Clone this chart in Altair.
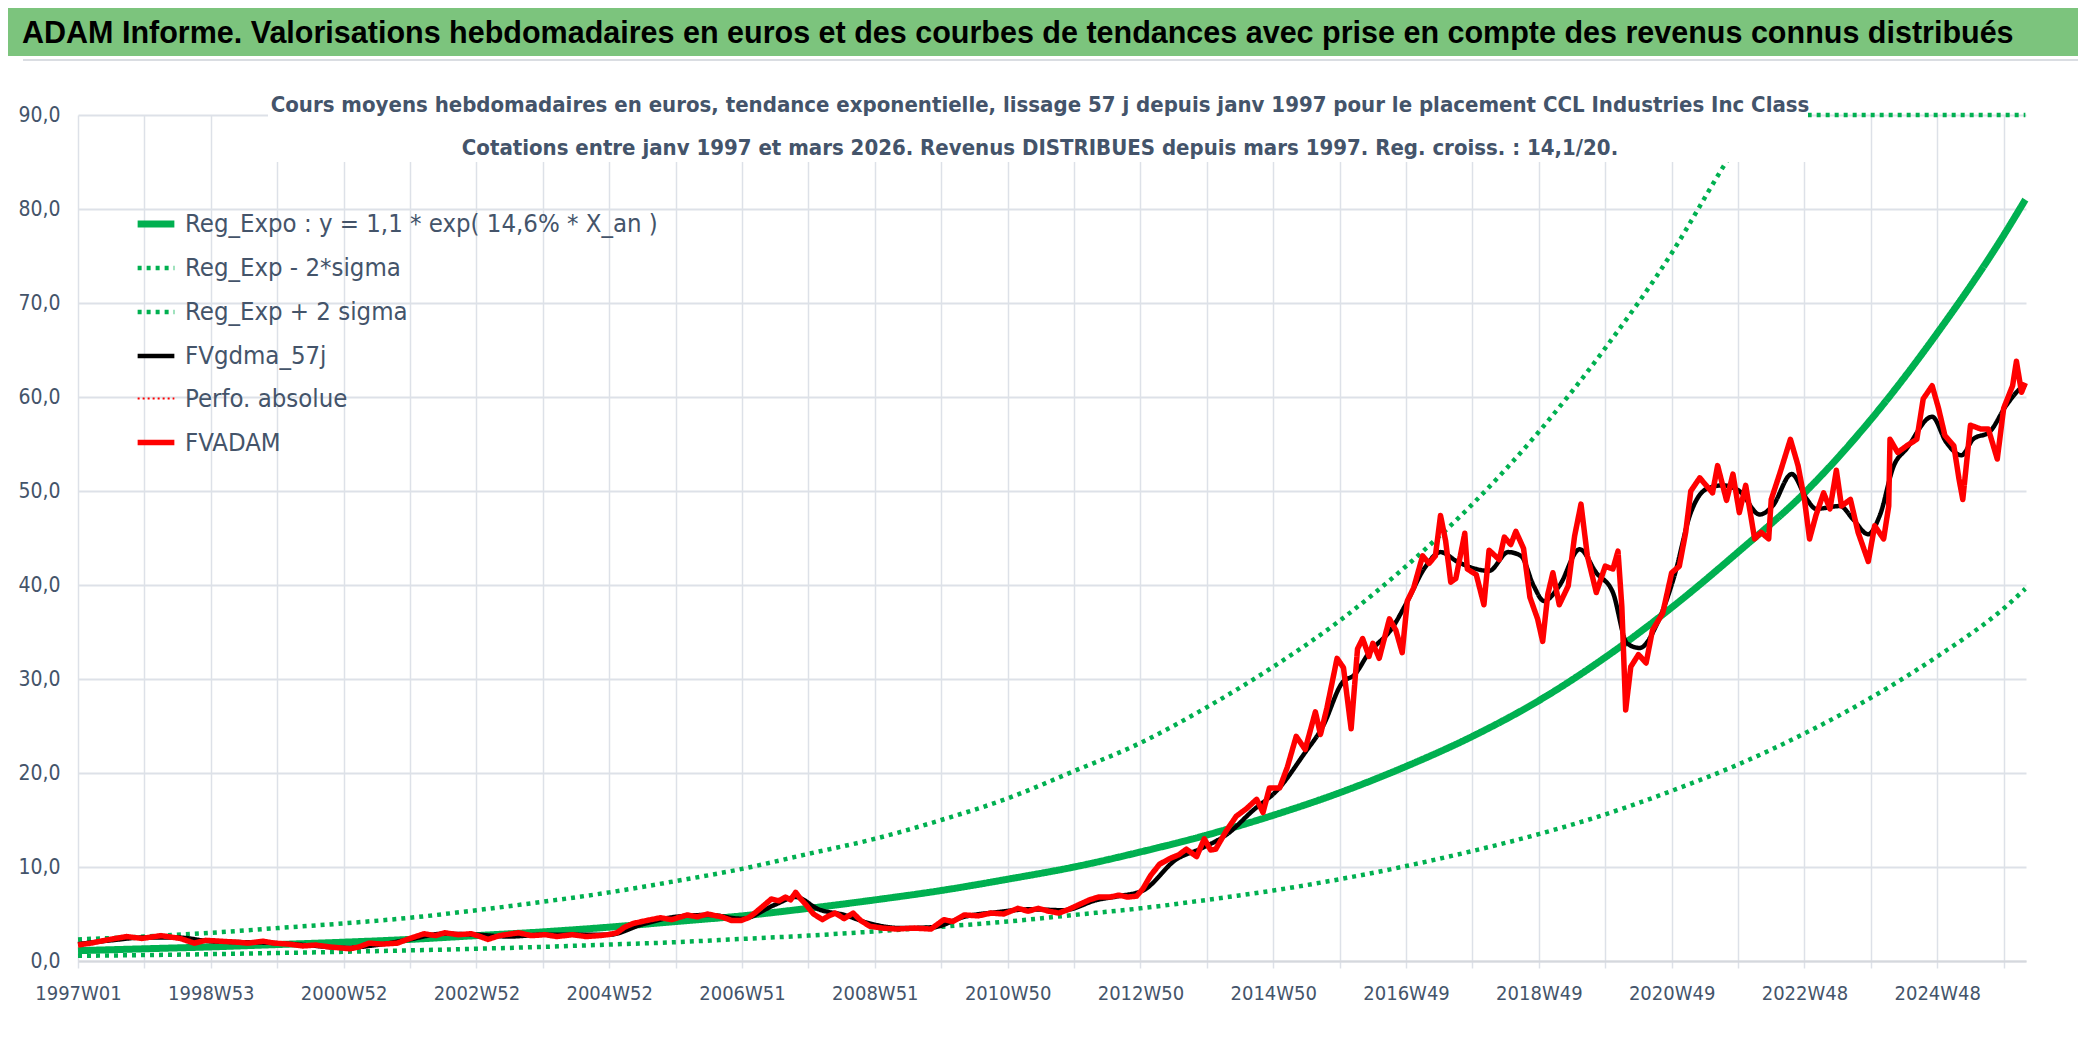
import altair as alt
import pandas as pd

TITRE = "ADAM Informe. Valorisations hebdomadaires en euros et des courbes de tendances avec prise en compte des revenus connus distribués"
SOUS_TITRE_1 = "Cours moyens hebdomadaires en euros, tendance exponentielle, lissage 57 j depuis janv 1997 pour le placement CCL Industries Inc Class"
SOUS_TITRE_2 = "Cotations entre janv 1997 et mars 2026. Revenus DISTRIBUES depuis mars 1997. Reg. croiss. : 14,1/20."

SERIES = ["Reg_Expo : y = 1,1 * exp( 14,6% *  X_an )", "Reg_Exp - 2*sigma", "Reg_Exp + 2 sigma",
          "FVgdma_57j", "Perfo. absolue", "FVADAM"]
COULEURS = ["#00B050", "#00B050", "#00B050", "#000000", "#FF0000", "#FF0000"]
TIRETS = [[1, 0], [4, 5], [4, 5], [1, 0], [2, 3], [1, 0]]
EPAISSEURS = [7, 4.5, 4.5, 4.5, 2, 5.5]

X_LABELS = ["1997W01", "1998W53", "2000W52", "2002W52", "2004W52", "2006W51", "2008W51", "2010W50",
            "2012W50", "2014W50", "2016W49", "2018W49", "2020W49", "2022W48", "2024W48"]

# index de semaine (0 = 1997W01) et valeurs
TREND_SEM = [0, 52, 104, 156, 208, 260, 312, 364, 416, 468, 520, 572, 624, 676, 728, 780, 832, 884, 936,
             988, 1040, 1092, 1144, 1196, 1248, 1300, 1352, 1404, 1456, 1508, 1525]
TREND_VAL = [1.1, 1.3, 1.5, 1.75, 2.0, 2.3, 2.7, 3.1, 3.6, 4.2, 4.8, 5.6, 6.5, 7.5, 8.7, 10.0, 11.6, 13.4, 15.5,
             17.9, 20.7, 23.9, 27.7, 32.3, 37.6, 43.5, 49.8, 57.6, 66.8, 77.2, 81.0]
BAS_VAL = [0.55, 0.63, 0.73, 0.85, 0.98, 1.13, 1.3, 1.5, 1.75, 2.0, 2.35, 2.7, 3.15, 3.65, 4.2, 4.9, 5.6, 6.5,
           7.5, 8.7, 10.1, 11.7, 13.5, 15.6, 18.1, 20.9, 24.2, 28.0, 32.4, 37.5, 39.6]
HAUT_SEM = [0, 52, 104, 156, 208, 260, 312, 364, 416, 468, 520, 572, 624, 676, 728, 780, 832, 884, 936,
            988, 1040, 1092, 1144, 1196, 1248, 1288, 1300, 1313, 1525]
HAUT_VAL = [2.3, 2.6, 3.0, 3.5, 4.0, 4.6, 5.4, 6.3, 7.3, 8.5, 9.8, 11.4, 13.0, 15.0, 17.3, 20.2, 23.2, 27.0,
            31.3, 36.2, 42.0, 48.6, 56.3, 65.2, 75.3, 84.4, 87.0, 90.0, 90.0]

GDMA_SEM = [0, 26, 52, 78, 104, 130, 156, 182, 208, 234, 260, 286, 312, 338, 364, 390, 416, 442, 468, 494,
            520, 546, 562, 580, 600, 620, 645, 670, 694, 720, 746, 772, 798, 815, 834, 860, 880, 900, 920,
            940, 960, 975, 990, 1000, 1010, 1030, 1040, 1055, 1067, 1080, 1095, 1105, 1120, 1130, 1140,
            1148, 1160, 1176, 1189, 1202, 1213, 1223, 1237, 1250, 1263, 1275, 1288, 1301, 1317, 1327, 1342,
            1354, 1361, 1380, 1390, 1402, 1411, 1422, 1432, 1452, 1463, 1475, 1484, 1497, 1510, 1521, 1525]
GDMA_VAL = [1.8, 2.2, 2.5, 2.5, 2.1, 2.0, 1.9, 1.65, 1.4, 1.7, 2.3, 2.9, 2.8, 2.6, 2.8, 2.8, 2.8, 3.9, 4.7,
            4.9, 4.5, 6.0, 6.8, 5.5, 4.9, 4.0, 3.5, 3.6, 4.7, 5.2, 5.5, 5.4, 6.5, 6.9, 7.5, 10.8, 12.0, 13.5,
            16.0, 18.3, 22.0, 25.0, 29.6, 30.5, 32.6, 35.6, 38.0, 41.9, 43.5, 42.5, 41.7, 41.5, 43.5, 43.1,
            39.9, 38.3, 39.9, 43.8, 41.3, 39.2, 33.8, 33.3, 36.0, 40.9, 47.7, 50.2, 50.6, 50.0, 47.5, 48.4,
            51.8, 49.1, 48.1, 48.4, 47.0, 45.4, 47.4, 52.7, 54.5, 57.9, 55.2, 53.8, 55.5, 56.3, 59.1, 60.9, 61.3]

ADAM_SEM = [0, 10, 25, 38, 50, 65, 80, 91, 100, 112, 125, 133, 145, 154, 165, 176, 186, 197, 205, 213, 220,
            228, 238, 250, 260, 271, 280, 287, 298, 308, 315, 321, 330, 345, 355, 366, 375, 387, 398, 408,
            415, 422, 428, 435, 445, 456, 465, 477, 485, 493, 500, 504, 512, 519, 525, 530, 537, 543, 549,
            554, 558, 562, 566, 570, 576, 583, 588, 593, 600, 607, 613, 620, 630, 641, 655, 668, 678, 685,
            694, 705, 715, 725, 736, 744, 752, 760, 768, 776, 784, 792, 799, 808, 815, 822, 829, 834, 840,
            847, 855, 862, 868, 876, 882, 887, 891, 899, 907, 915, 923, 928, 933, 941, 947, 954, 961, 969,
            973, 978, 986, 991, 997, 1002, 1006, 1011, 1014, 1019, 1027, 1032, 1037, 1041, 1046, 1053, 1058,
            1063, 1067, 1071, 1075, 1079, 1086, 1088, 1095, 1101, 1105, 1113, 1117, 1122, 1126, 1132, 1137,
            1143, 1147, 1151, 1155, 1160, 1167, 1172, 1177, 1182, 1189, 1196, 1202, 1206, 1209, 1212, 1216,
            1222, 1228, 1233, 1241, 1248, 1254, 1259, 1263, 1270, 1275, 1280, 1284, 1291, 1296, 1301, 1306,
            1313, 1318, 1324, 1326, 1333, 1341, 1347, 1352, 1356, 1361, 1367, 1372, 1377, 1381, 1388, 1394,
            1402, 1407, 1414, 1418, 1419, 1425, 1432, 1440, 1445, 1452, 1457, 1462, 1469, 1473, 1476, 1482,
            1490, 1496, 1503, 1508, 1515, 1518, 1522, 1525]
ADAM_VAL = [1.7, 1.9, 2.3, 2.6, 2.4, 2.7, 2.4, 1.9, 2.2, 2.1, 2.0, 1.9, 2.1, 1.9, 1.8, 1.6, 1.7, 1.5, 1.4, 1.3,
            1.5, 1.9, 1.8, 1.9, 2.4, 2.9, 2.7, 3.0, 2.8, 2.9, 2.6, 2.3, 2.7, 3.0, 2.7, 2.8, 2.6, 2.8, 2.6,
            2.7, 2.8, 3.0, 3.6, 4.0, 4.3, 4.6, 4.4, 4.9, 4.7, 5.0, 4.8, 4.7, 4.3, 4.3, 4.6, 5.1, 5.9, 6.6,
            6.4, 6.8, 6.5, 7.3, 6.6, 6.0, 5.0, 4.4, 4.8, 5.1, 4.5, 5.1, 4.3, 3.7, 3.5, 3.4, 3.5, 3.4, 4.4,
            4.2, 4.9, 4.8, 5.1, 5.0, 5.6, 5.3, 5.6, 5.3, 5.1, 5.5, 6.0, 6.5, 6.8, 6.8, 7.0, 6.8, 6.9, 7.7,
            9.1, 10.3, 10.9, 11.3, 11.9, 11.1, 13.0, 11.8, 11.9, 13.8, 15.4, 16.2, 17.2, 15.8, 18.4, 18.4,
            20.6, 23.9, 22.5, 26.5, 24.1, 26.9, 32.2, 31.2, 24.7, 33.2, 34.3, 32.4, 33.8, 32.2, 36.4, 35.2,
            32.8, 38.3, 39.7, 43.1, 42.3, 43.1, 47.4, 44.7, 40.3, 40.7, 45.5, 41.7, 41.1, 37.9, 43.7, 42.7,
            45.1, 44.3, 45.7, 43.9, 38.7, 36.4, 34.0, 39.0, 41.3, 37.9, 39.9, 45.2, 48.6, 43.1, 39.2, 42.0,
            41.7, 43.6, 37.7, 26.7, 31.3, 32.6, 31.7, 35.2, 37.0, 41.3, 42.0, 45.6, 50.0, 51.4, 50.6, 49.8,
            52.7, 49.0, 51.8, 47.7, 50.6, 44.9, 45.6, 44.9, 49.1, 52.0, 55.5, 52.7, 49.1, 44.9, 47.4, 49.8,
            48.1, 52.2, 48.4, 49.1, 45.6, 42.5, 46.3, 44.9, 48.4, 55.5, 54.1, 54.8, 55.5, 59.8, 61.2, 58.8,
            55.9, 54.8, 51.3, 49.1, 57.0, 56.6, 56.6, 53.4, 58.8, 61.2, 63.8, 60.5, 61.5]

rows = []
for s, v in zip(TREND_SEM, TREND_VAL):
    rows.append({"semaine": s, "valeur": v, "serie": SERIES[0]})
for s, v in zip(TREND_SEM, BAS_VAL):
    rows.append({"semaine": s, "valeur": v, "serie": SERIES[1]})
for s, v in zip(HAUT_SEM, HAUT_VAL):
    rows.append({"semaine": s, "valeur": v, "serie": SERIES[2]})
for s, v in zip(GDMA_SEM, GDMA_VAL):
    rows.append({"semaine": s, "valeur": v, "serie": SERIES[3]})
for s, v in zip(ADAM_SEM, ADAM_VAL):
    rows.append({"semaine": s, "valeur": v, "serie": SERIES[5]})
df = pd.DataFrame(rows)

NARROW = "DejaVu Sans Condensed, Liberation Sans Narrow, sans-serif"
TXT = "#44546A"
GRID = "#DDE1E8"

label_arr = "[" + ",".join("'" + l + "'" for l in X_LABELS) + "]"

x_enc = alt.X("semaine:Q",
              scale=alt.Scale(domain=[0, 1525.5], nice=False, zero=False),
              axis=alt.Axis(values=list(range(0, 1509, 52)),
                            labelExpr=f"datum.value % 104 == 0 ? {label_arr}[datum.value / 104] : ''",
                            title=None, grid=True, gridColor=GRID, gridWidth=1.5,
                            ticks=True, tickSize=7, tickColor=GRID, tickWidth=1.5,
                            domainColor="#D5D8DD", domainWidth=2,
                            labelFont=NARROW, labelFontSize=20, labelColor=TXT, labelPadding=15,
                            labelOverlap=False, labelFlush=False, labelBound=False, labelAngle=0))
y_enc = alt.Y("valeur:Q",
              scale=alt.Scale(domain=[0, 90], nice=False),
              axis=alt.Axis(values=list(range(0, 91, 10)),
                            labelExpr="replace(format(datum.value, '.1f'), '.', ',')",
                            title=None, grid=True, gridColor=GRID, gridWidth=2,
                            domain=False, ticks=False, labelPadding=18,
                            labelFont=NARROW, labelFontSize=21, labelColor=TXT))

color_enc = alt.Color("serie:N", scale=alt.Scale(domain=SERIES, range=COULEURS),
                      legend=alt.Legend(orient="none", legendX=56, legendY=87, title=None,
                                        symbolType="stroke", symbolSize=1350, rowPadding=9,
                                        labelFont=NARROW, labelFontSize=25.5, labelColor=TXT,
                                        labelOffset=7, padding=0, labelLimit=600))
dash_enc = alt.StrokeDash("serie:N", scale=alt.Scale(domain=SERIES, range=TIRETS))
width_enc = alt.StrokeWidth("serie:N", scale=alt.Scale(type="ordinal", domain=SERIES, range=EPAISSEURS))

def couche(nom, interp):
    return alt.Chart(df).transform_filter(alt.datum.serie == nom).mark_line(
        interpolate=interp, strokeJoin="round").encode(
        x=x_enc, y=y_enc, color=color_enc, strokeDash=dash_enc, strokeWidth=width_enc)

lignes = [couche(SERIES[0], "monotone"), couche(SERIES[1], "monotone"), couche(SERIES[2], "monotone"),
          couche(SERIES[3], "monotone"), couche(SERIES[5], "linear")]

one = pd.DataFrame({"t": [""]})
boite = alt.Chart(one).mark_rect(color="white").encode(
    x=alt.value(190), x2=alt.value(1730), y=alt.value(-53), y2=alt.value(47))
st1 = alt.Chart(pd.DataFrame({"t": [SOUS_TITRE_1]})).mark_text(
    font=NARROW, fontSize=22, fontWeight="bold", color=TXT, align="center", baseline="alphabetic").encode(
    x=alt.value(962), y=alt.value(-3), text="t:N")
st2 = alt.Chart(pd.DataFrame({"t": [SOUS_TITRE_2]})).mark_text(
    font=NARROW, fontSize=22, fontWeight="bold", color=TXT, align="center", baseline="alphabetic").encode(
    x=alt.value(962), y=alt.value(40), text="t:N")
bandeau = alt.Chart(one).mark_rect(color="#7CC47D").encode(
    x=alt.value(-70), x2=alt.value(2000), y=alt.value(-107), y2=alt.value(-59))
filet = alt.Chart(one).mark_rule(color="#DADDE2", strokeWidth=2).encode(
    x=alt.value(-55), x2=alt.value(2000), y=alt.value(-55))
titre = alt.Chart(pd.DataFrame({"t": [TITRE]})).mark_text(
    font="Liberation Sans, Arial, sans-serif", fontSize=30.5, fontWeight="bold", color="black",
    align="left", baseline="alphabetic").encode(
    x=alt.value(-56), y=alt.value(-72), text="t:N")

chart = alt.layer(*lignes, boite, st1, st2, bandeau, filet, titre).properties(
    width=1948, height=846,
    autosize=alt.AutoSizeParams(type="none"),
    padding={"left": 70, "top": 107, "right": 52, "bottom": 62},
    background="white",
).configure_view(stroke=None)

chart.save("out.html", embed_options={"renderer": "svg", "actions": False})
